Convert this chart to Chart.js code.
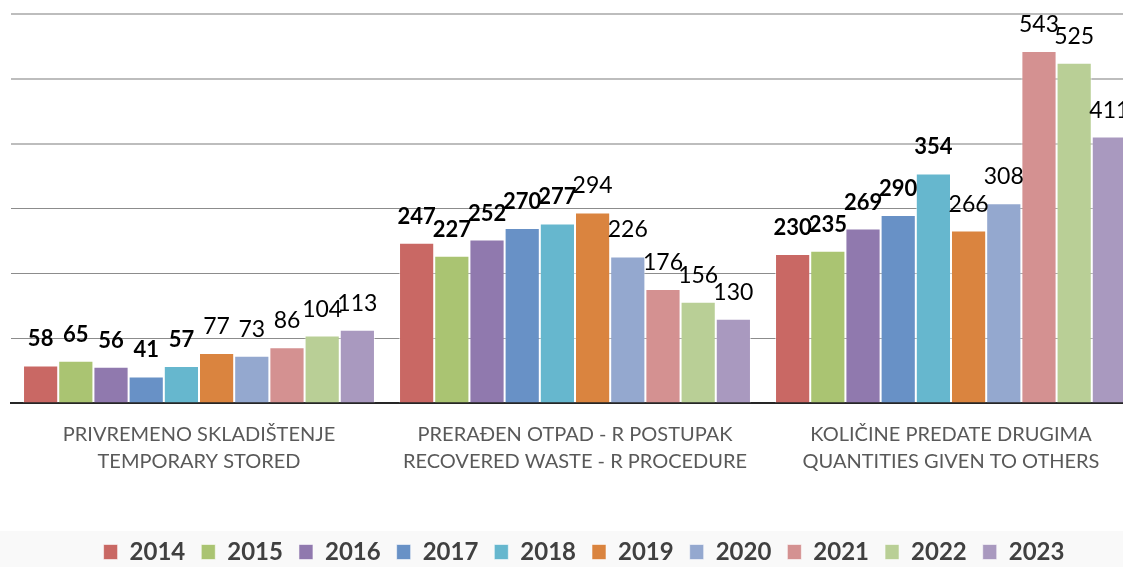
<!DOCTYPE html>
<html>
<head>
<meta charset="utf-8">
<script src="https://cdn.jsdelivr.net/npm/chart.js@4/dist/chart.umd.min.js"></script>
<style>
  html, body { margin: 0; padding: 0; background: #fff; overflow: hidden; }
  canvas { display: block; }
</style>
</head>
<body>
<canvas id="chart" width="1180" height="567"></canvas>
<script>
// data
const categories = [
    ['PRIVREMENO SKLADIŠTENJE', 'TEMPORARY STORED'],
    ['PRERAĐEN OTPAD - R POSTUPAK', 'RECOVERED WASTE - R PROCEDURE'],
    ['KOLIČINE PREDATE DRUGIMA', 'QUANTITIES GIVEN TO OTHERS']
];
const years = ['2014', '2015', '2016', '2017', '2018', '2019', '2020', '2021', '2022', '2023'];
const temporaryStored = [58, 65, 56, 41, 57, 77, 73, 86, 104, 113];
const recoveredWaste = [247, 227, 252, 270, 277, 294, 226, 176, 156, 130];
const givenToOthers = [230, 235, 269, 290, 354, 266, 308, 543, 525, 411];
const yTicks = [0, 100, 200, 300, 400, 500, 600];

const colors = ['#c96864', '#aac472', '#9079ae', '#6891c6', '#66b7ce',
                '#da843f', '#94a8cf', '#d49191', '#b9cf96', '#a999bf'];

const datasets = years.map((y, i) => ({
    label: y,
    data: [temporaryStored[i], recoveredWaste[i], givenToOthers[i]],
    backgroundColor: colors[i],
    borderColor: 'rgba(255,255,255,0.55)',
    borderWidth: 1,
    categoryPercentage: 0.936,
    barPercentage: 1.0
}));

// value labels above the bars, first five years in bold
const barLabels = {
    id: 'barLabels',
    afterDatasetsDraw(chart) {
        const ctx = chart.ctx;
        ctx.save();
        ctx.fillStyle = '#000';
        ctx.textAlign = 'center';
        ctx.textBaseline = 'alphabetic';
        chart.data.datasets.forEach((ds, i) => {
            ctx.font = i < 5 ? 'bold 22px Lato' : '23px Lato';
            chart.getDatasetMeta(i).data.forEach((bar, j) => {
                ctx.fillText(ds.data[j], bar.x, bar.y - 19);
            });
        });
        ctx.restore();
    }
};

// light grey band behind the legend
const legendBand = {
    id: 'legendBand',
    beforeDraw(chart) {
        const ctx = chart.ctx;
        ctx.save();
        ctx.fillStyle = '#f9f9f9';
        ctx.fillRect(0, chart.legend.top + 7, chart.width, chart.height);
        ctx.restore();
    }
};

new Chart(document.getElementById('chart'), {
    type: 'bar',
    data: { labels: categories, datasets: datasets },
    plugins: [legendBand, barLabels],
    options: {
        responsive: false,
        animation: false,
        devicePixelRatio: 1,
        layout: { padding: { top: 14, right: 23, left: 11, bottom: 0 } },
        scales: {
            x: {
                grid: { display: false },
                border: { color: '#262626', width: 2 },
                ticks: {
                    color: '#595959',
                    font: { family: 'Lato', size: 20, lineHeight: 1.35 },
                    padding: 10,
                    maxRotation: 0
                },
                afterFit: s => { s.height = 121; }
            },
            y: {
                position: 'right',
                min: 0,
                max: 600,
                z: 1,
                afterBuildTicks: s => { s.ticks = yTicks.map(v => ({ value: v })); },
                ticks: { display: false },
                border: { display: false },
                grid: {
                    drawTicks: false,
                    color: c => c.tick.value === 0 ? 'rgba(0,0,0,0)'
                        : (c.tick.value <= 300 ? 'rgba(0,0,0,0.45)' : 'rgba(0,0,0,0.26)'),
                    lineWidth: c => c.tick.value <= 300 ? 1 : 2
                },
                afterFit: s => { s.width = 18; }
            }
        },
        plugins: {
            tooltip: { enabled: false },
            legend: {
                position: 'bottom',
                maxHeight: 43,
                labels: {
                    color: '#404040',
                    font: { family: 'Lato', size: 24, weight: 'bold' },
                    boxWidth: 14,
                    boxHeight: 15,
                    padding: 16
                }
            }
        }
    }
});
</script>
</body>
</html>
